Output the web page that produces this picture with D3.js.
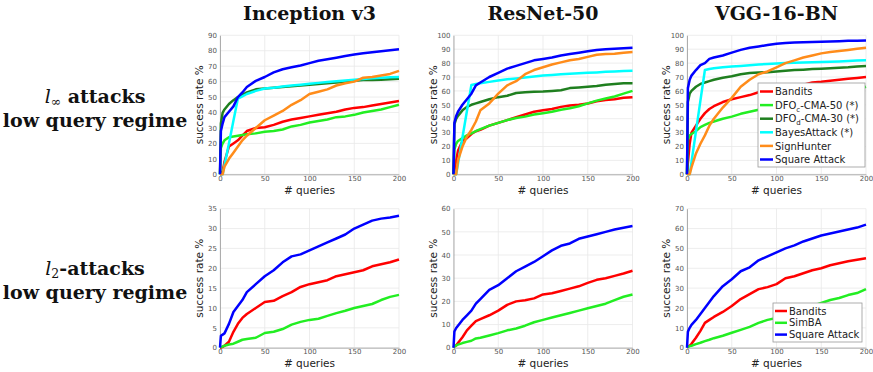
<!DOCTYPE html>
<html><head><meta charset="utf-8">
<script src="https://cdn.jsdelivr.net/npm/d3@7"></script>
<style>body{margin:0;background:#fff}svg{display:block}</style>
</head><body>
<svg id="c" width="873" height="372"></svg>
<script>
// query grid shared by all series
const queries = [0,1,3,5,10,15,20,25,30,40,50,60,70,80,90,100,110,120,130,140,150,160,170,180,190,200];
const xTicks = [0,50,100,150,200];
const modelTitles = ["Inception v3","ResNet-50","VGG-16-BN"];

// l_inf, Inception v3
const incLinfBandits = [0,0,2,8,18,20,22,25,28,30,30.5,32,34,35.5,36.5,37.5,38.5,39.5,40.5,42,43,43.5,44.5,45.5,46.5,47.5];
const incLinfDFOc    = [0,17,20,22,24,24.5,25,25.5,26,26.5,27.5,28,29,31,32,33.5,34.5,35.5,37,37.5,38.5,40,41,42,43.5,45];
const incLinfDFOd    = [0,33,40,42,45.5,48,50,51.5,53,55,55.5,56,56.5,57,57.5,58,58.5,59,59.5,60,60.5,61,61,61.2,61.5,61.8];
const incLinfBayes   = [0,0,0,5.8,20,34.6,49,50.5,52,54,55.5,56,56.8,57.5,58,58.6,59.2,59.8,60.3,60.8,61.3,61.7,62.2,62.5,62.8,63];
const incLinfSign    = [0,0,0,5,10,14,18,22,25,30,35,38,41,45,48,52,53.5,55,57.5,59,60,62.5,63,64,65,67];
const incLinfSquare  = [0,28,33,37,40.5,44,50,53,56.5,60.5,63,66,68,69.3,70.5,72,73.5,74.5,75.5,76.6,77.5,78.4,79,79.6,80.3,81];
// l_inf, ResNet-50
const resLinfBandits = [0,2,10,17,24,26,29,31,32,35,37,39,41,43,45,46,47,48.5,49.5,50,51,52.5,53.5,54,55,55.5];
const resLinfDFOc    = [0,18,22,24,26,28,29.5,31,32.5,35,37,39,40.5,41.5,43,44,45,46.5,47.5,49,51,53,54.5,56,58,60];
const resLinfDFOd    = [0,36,40,42,46,48.5,50,51,52,54,55.5,56.5,58.5,59,59.3,59.5,60,60.5,62,62.5,63,63.5,64.5,65,65.5,65.5];
const resLinfBayes   = [0,0,0,7.5,26.5,45.5,64.3,65,65.5,66.5,67.5,68.3,69,69.7,70.3,71,71.5,72,72.3,72.7,73,73.3,73.7,74,74.3,74.5];
const resLinfSign    = [0,0,0,10,20,27,32,38,46,51,58,64,67,72,75,77,79,80.5,82,83,84.5,86,86.5,86.7,87.5,88];
const resLinfSquare  = [0,37,42,45,50,54,58,64,66,70,73,76,78,80,82,83,84,85.5,86.5,87.5,88.5,89.5,90,90.3,90.7,91];
// l_inf, VGG-16-BN
const vggLinfBandits = [0,8,22,30,35,40,44,47,49,52,54,55.5,57,59,60.5,62,63,63.8,64.5,66,66.5,67.3,68,68.7,69.3,70];
const vggLinfDFOc    = [0,25,28,29,31,34,35.5,37,38,40,41.5,43.5,45,46.5,48,50,51.5,53,54,55,56,57,58,59.5,61,63];
const vggLinfDFOd    = [0,52,58,60,63,65,66,67,68,69.5,70.5,72,72.8,73.2,73.5,74,74.5,75,75.3,75.7,76,76.3,76.7,77,77.5,78];
const vggLinfBayes   = [0,0,0,8.8,30.9,53,75,75.8,76.3,77,77.5,78,78.5,79,79.3,79.7,80,80.2,80.4,80.6,80.8,81,81.2,81.5,81.8,82];
const vggLinfSign    = [0,0,0,5,15,22,28,35,40,48,55,63,68,72,74,77,80,82,84,85.5,87,88,88.7,89.5,90.3,91];
const vggLinfSquare  = [0,62,68,71,75,78.5,80,83,84,85.5,87.5,89.5,91,92,93,94,94.5,94.8,95,95.2,95.4,95.6,95.8,96,96.1,96.2];
// l_2, Inception v3
const incL2Bandits = [0,0,0.2,0.5,1.5,4,6,7.5,8.5,10,11.5,11.8,13,14,15.3,16,16.5,17,18,18.5,19,19.5,20.5,21,21.5,22.2];
const incL2SimBA   = [0,0.2,0.3,0.5,0.8,1,1.5,2,2.2,2.5,3.7,4,4.7,5.8,6.5,7,7.3,8,8.7,9.3,10,10.5,11,12,12.8,13.3];
const incL2Square  = [0,3,3.3,3.6,6,9,10.5,12,14,16,18,19.5,21.5,23,23.5,24.5,25.5,26.5,27.5,28.5,30,31,32,32.5,32.8,33.2];
// l_2, ResNet-50
const resL2Bandits = [0,0.5,1,2,4.5,7.5,9.5,11.5,12.3,14,16,18.5,20,20.5,21.3,23,23.5,24.5,25.5,26.5,28,29.3,30,31,32,33.2];
const resL2SimBA   = [0,0.5,1,1.3,2,2.5,3,4,4.3,5.3,6.3,7.5,8.3,9.5,11,12,13,14,15,16,17,18,19,20.5,22,23];
const resL2Square  = [0,7,8.5,9.5,12,14,16,19,21,25,27,30,33,35,37,39.5,42,44,45,47,48,49,50,51,51.8,52.5];
// l_2, VGG-16-BN
const vggL2Bandits = [0,0.5,1,2,5,8.5,12.5,14,15.5,18,21,24.5,27,29.5,30.5,32,35,36,37.5,39,40,41.5,42.5,43.5,44.3,45];
const vggL2SimBA   = [0,0.5,0.8,1,1.8,2.5,3.3,4,4.8,6,7.5,9,10.5,12.5,14,15,16.5,18,19.5,21,22.5,24,25,26.5,27.5,29.5];
const vggL2Square  = [0,8,10,11.5,14,17,20,23,26,31,34.5,38.5,40.5,44,46,48,50,51.5,53.5,55,56.5,57.5,58.5,59.5,60.5,62];

const linfNames = ["Bandits","DFOc-CMA-50 (*)","DFOd-CMA-30 (*)","BayesAttack (*)","SignHunter","Square Attack"];
const linfColors = ["#ff0000","#22ee22","#1f7f1f","#00ffff","#ff8c1a","#0000ff"];
const l2Names = ["Bandits","SimBA","Square Attack"];
const l2Colors = ["#ff0000","#22ee22","#0000ff"];

const panels = [
  {row:0,col:0,ymax:90,series:[incLinfBandits,incLinfDFOc,incLinfDFOd,incLinfBayes,incLinfSign,incLinfSquare],colors:linfColors},
  {row:0,col:1,ymax:100,series:[resLinfBandits,resLinfDFOc,resLinfDFOd,resLinfBayes,resLinfSign,resLinfSquare],colors:linfColors},
  {row:0,col:2,ymax:100,series:[vggLinfBandits,vggLinfDFOc,vggLinfDFOd,vggLinfBayes,vggLinfSign,vggLinfSquare],colors:linfColors,legend:"linf"},
  {row:1,col:0,ymax:35,ystep:5,series:[incL2Bandits,incL2SimBA,incL2Square],colors:l2Colors},
  {row:1,col:1,ymax:60,series:[resL2Bandits,resL2SimBA,resL2Square],colors:l2Colors},
  {row:1,col:2,ymax:70,series:[vggL2Bandits,vggL2SimBA,vggL2Square],colors:l2Colors,legend:"l2"}
];

const svg = d3.select("#c");
const colX = [220, 453.5, 687], rowY = [35.3, 208.7], W = 179, H = 139;

panels.forEach(p => {
  const x0 = colX[p.col], y0 = rowY[p.row];
  const g = svg.append("g").attr("transform",`translate(${x0},${y0})`);
  const x = d3.scaleLinear().domain([0,200]).range([0,W]);
  const y = d3.scaleLinear().domain([0,p.ymax]).range([H,0]);
  const yt = d3.range(0,p.ymax+0.001,p.ystep||10);
  // grid
  g.append("g").selectAll("line").data(xTicks).join("line")
    .attr("x1",d=>x(d)).attr("x2",d=>x(d)).attr("y1",0).attr("y2",H)
    .attr("stroke","#e8e8e8").attr("stroke-width",0.8);
  g.append("g").selectAll("line").data(yt).join("line")
    .attr("x1",0).attr("x2",W).attr("y1",d=>y(d)).attr("y2",d=>y(d))
    .attr("stroke","#e8e8e8").attr("stroke-width",0.8);
  // axes
  const ax = g.append("g").attr("transform",`translate(0,${H})`)
    .call(d3.axisBottom(x).tickValues(xTicks).tickSize(0).tickPadding(1.5));
  const ay = g.append("g").call(d3.axisLeft(y).tickValues(yt).tickSize(0).tickPadding(3));
  [ax,ay].forEach(a=>{
    a.select(".domain").attr("stroke","#9a9a9a").attr("stroke-width",0.8);
    a.selectAll("text").attr("font-family","DejaVu Sans").attr("font-size",7).attr("fill","#555");
  });
  // lines
  const line = d3.line().x((d,i)=>x(queries[i])).y(d=>y(d));
  p.series.forEach((s,i)=>{
    g.append("path").datum(s).attr("d",line).attr("fill","none")
      .attr("stroke",p.colors[i]).attr("stroke-width",2.5).attr("stroke-linejoin","round");
  });
  // axis labels
  g.append("text").attr("transform",`translate(-17,${H/2}) rotate(-90)`)
    .attr("text-anchor","middle").attr("font-family","DejaVu Sans").attr("font-size",10.5)
    .attr("fill","#222").text("success rate %");
  g.append("text").attr("x",W/2).attr("y",H+19.5).attr("text-anchor","middle")
    .attr("font-family","DejaVu Sans").attr("font-size",10.5).attr("fill","#222").text("# queries");
  // legends
  if (p.legend === "linf") {
    const lg = g.append("g").attr("transform",`translate(${758-x0},${83-y0})`);
    lg.append("rect").attr("width",107).attr("height",84).attr("fill","#fff").attr("stroke","#999").attr("stroke-width",0.8);
    linfNames.forEach((n,i)=>{
      const yy = 8.5 + i*13.6;
      lg.append("line").attr("x1",2).attr("x2",15).attr("y1",yy).attr("y2",yy)
        .attr("stroke",linfColors[i]).attr("stroke-width",2.5);
      const t = lg.append("text").attr("x",17).attr("y",yy+3.6).attr("font-family","DejaVu Sans")
        .attr("font-size",10).attr("fill","#222");
      if (n.startsWith("DFO")) {
        t.append("tspan").text("DFO");
        t.append("tspan").attr("font-size",7).attr("dy",3).text(n[3]);
        t.append("tspan").attr("dy",-3).text(n.slice(4));
      } else t.text(n);
    });
  } else if (p.legend === "l2") {
    const lg = g.append("g").attr("transform",`translate(${773-x0},${303-y0})`);
    lg.append("rect").attr("width",89).attr("height",39).attr("fill","#fff").attr("stroke","#999").attr("stroke-width",0.8);
    l2Names.forEach((n,i)=>{
      const yy = 8 + i*11.8;
      lg.append("line").attr("x1",2).attr("x2",14).attr("y1",yy).attr("y2",yy)
        .attr("stroke",l2Colors[i]).attr("stroke-width",2.5);
      lg.append("text").attr("x",16).attr("y",yy+3.5).attr("font-family","DejaVu Sans")
        .attr("font-size",10).attr("fill","#222").text(n);
    });
  }
});

// column titles
modelTitles.forEach((t,i)=>{
  svg.append("text").attr("x",colX[i]+W/2).attr("y",20).attr("text-anchor","middle")
    .attr("font-family","DejaVu Serif").attr("font-weight","bold").attr("font-size",19)
    .attr("fill","#111").text(t);
});

// row labels
function rowLabel(sub, joiner, yTop) {
  const t1 = svg.append("text").attr("x",95).attr("y",yTop).attr("text-anchor","middle")
    .attr("font-family","DejaVu Serif").attr("font-size",19).attr("fill","#111");
  t1.append("tspan").attr("font-style","italic").text("l");
  t1.append("tspan").attr("font-size",12.5).attr("dy",3).text(sub);
  t1.append("tspan").attr("dy",-3).attr("font-weight","bold").text(joiner+"attacks");
  svg.append("text").attr("x",95).attr("y",yTop+23.5).attr("text-anchor","middle")
    .attr("font-family","DejaVu Serif").attr("font-weight","bold").attr("font-size",19)
    .attr("fill","#111").text("low query regime");
}
rowLabel("\u221E"," ",103);
rowLabel("2","-",275);
</script>
</body></html>
